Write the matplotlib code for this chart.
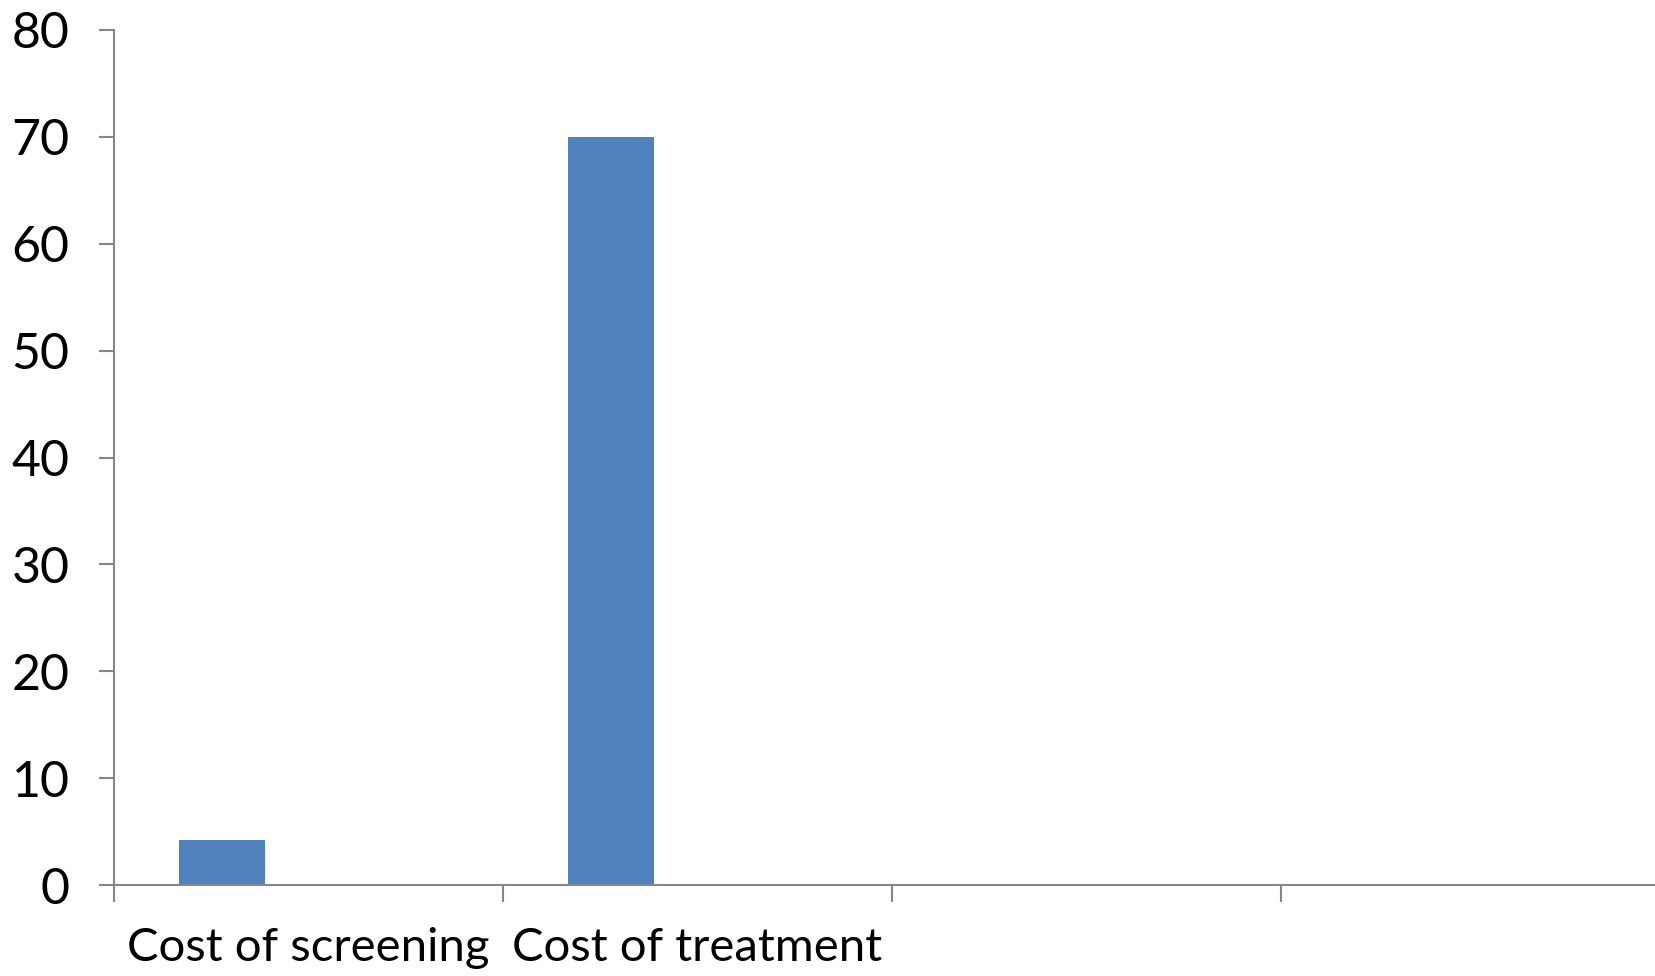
import matplotlib
matplotlib.use("Agg")
import matplotlib.pyplot as plt
import numpy as np

plt.rcParams["font.family"] = ["Lato", "DejaVu Sans"]

categories = ["Cost of screening", "Cost of treatment", "", ""]
costs = [4.25, 70.0]          # 只有前两类有数值
y_ticks = [0, 10, 20, 30, 40, 50, 60, 70, 80]

BLUE = "#4F81BD"
AXIS = "#868686"
N_SERIES = 3      # Excel 风格的簇状柱：3 个系列，间隙 150%
GAP = 1.5

fig = plt.figure(figsize=(16.56, 9.76), dpi=100)
ax = fig.add_axes([114 / 1656, 91 / 976, (1656 - 114) / 1656, 855 / 976])

bw = 1 / (N_SERIES + GAP)
x = np.arange(len(costs)) + GAP / 2 * bw + bw / 2
ax.bar(x, costs, width=bw, color=BLUE, edgecolor="none", zorder=2)

ax.set_xlim(0, (1656 - 114) / 389)
ax.set_ylim(0, 80)
ax.set_yticks(y_ticks)
ax.set_yticklabels([str(t) for t in y_ticks], fontsize=36)

# 分类边界画刻度线，标签放在每个分类中间
ax.set_xticks(np.arange(len(categories)))
ax.set_xticklabels([])
ax.set_xticks(np.arange(len(categories)) + 0.5, minor=True)
ax.set_xticklabels(categories, minor=True, fontsize=34)
ax.tick_params(axis="x", which="major", length=12, width=1.5, color=AXIS)
ax.tick_params(axis="x", which="minor", length=0, pad=30)
ax.tick_params(axis="y", length=11, width=1.5, color=AXIS, pad=21)

for s in ["top", "right"]:
    ax.spines[s].set_visible(False)
for s in ["left", "bottom"]:
    ax.spines[s].set_color(AXIS)
    ax.spines[s].set_linewidth(1.5)

fig.savefig("out.png", dpi=100)
